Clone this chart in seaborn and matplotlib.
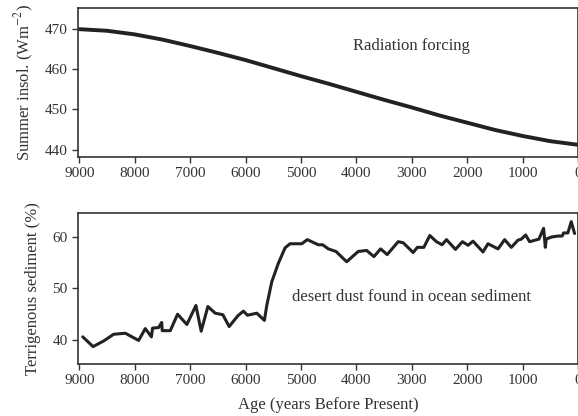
import numpy as np
import pandas as pd
import matplotlib
matplotlib.use("Agg")
import matplotlib.pyplot as plt
import seaborn as sns

# ---- data ----
insol_age = [9000, 8500, 8000, 7500, 7000, 6500, 6000, 5500, 5000, 4500,
             4000, 3500, 3000, 2500, 2000, 1500, 1000, 500, 0]
insol_val = [470.0, 469.6, 468.7, 467.4, 465.8, 464.1, 462.3, 460.3, 458.3, 456.4,
             454.4, 452.4, 450.5, 448.5, 446.7, 444.9, 443.4, 442.1, 441.2]

sed_age = [8940, 8753, 8562, 8382, 8171, 7931, 7811, 7700, 7680, 7571,
           7515, 7505, 7360, 7228, 7060, 6897, 6802, 6681, 6549, 6411,
           6297, 6140, 6039, 5967, 5798, 5661, 5618, 5528, 5409, 5288,
           5198, 4987, 4886, 4807, 4688, 4608, 4507, 4369, 4176, 3967,
           3816, 3684, 3563, 3444, 3246, 3156, 2976, 2900, 2783, 2675,
           2555, 2454, 2374, 2212, 2086, 1985, 1895, 1715, 1625, 1444,
           1324, 1204, 1084, 1023, 945, 873, 706, 621, 590, 573,
           483, 363, 285, 261, 183, 122, 62]
sed_val = [40.6, 38.7, 39.8, 41.1, 41.3, 39.9, 42.2, 40.6, 42.3, 42.4,
           43.4, 41.8, 41.8, 45.0, 43.0, 46.7, 41.7, 46.5, 45.2, 44.9,
           42.6, 44.7, 45.6, 44.8, 45.2, 43.8, 46.7, 51.3, 54.9, 57.9,
           58.7, 58.7, 59.5, 59.1, 58.5, 58.5, 57.7, 57.2, 55.2, 57.2,
           57.4, 56.2, 57.7, 56.6, 59.1, 58.9, 57.0, 58.0, 58.0, 60.3,
           59.1, 58.5, 59.5, 57.6, 59.1, 58.4, 59.2, 57.1, 58.7, 57.7,
           59.5, 58.0, 59.4, 59.6, 60.4, 59.1, 59.6, 61.7, 58.0, 59.6,
           60.0, 60.2, 60.2, 60.8, 60.8, 63.0, 60.7]

x_ticks = [9000, 8000, 7000, 6000, 5000, 4000, 3000, 2000, 1000, 0]
top_yticks = [440, 450, 460, 470]
bot_yticks = [40, 50, 60]

df_top = pd.DataFrame({"age": insol_age, "val": insol_val})
df_bot = pd.DataFrame({"age": sed_age, "val": sed_val})

sns.set_style("ticks")
plt.rcParams["font.family"] = ["Liberation Serif", "DejaVu Serif"]
plt.rcParams["mathtext.fontset"] = "stix"

fig = plt.figure(figsize=(5.78, 4.16), dpi=100)
ax1 = fig.add_axes([0.135, 0.623, 0.865, 0.358])
ax2 = fig.add_axes([0.135, 0.126, 0.865, 0.361])

lc = "#222222"
tc = "#333333"
sns.lineplot(data=df_top, x="age", y="val", ax=ax1, color=lc, linewidth=2.8, sort=False)
sns.lineplot(data=df_bot, x="age", y="val", ax=ax2, color=lc, linewidth=2.2, sort=False)

for ax in (ax1, ax2):
    ax.set_xlim(9025, 0)
    ax.set_xticks(x_ticks)
    ax.set_xticklabels([str(t) for t in x_ticks])
    for s in ax.spines.values():
        s.set_color("#333333")
        s.set_linewidth(1.2)
    ax.tick_params(axis="both", direction="out", length=4, width=1, colors="#333333",
                   labelsize=11, labelcolor=tc)
    ax.set_xlabel("")

ax1.set_ylim(438.2, 475.3)
ax1.set_yticks(top_yticks)
ax1.set_ylabel(r"Summer insol. (Wm$^{-2}$)", fontsize=12, color=tc, labelpad=6)
ax1.text(3000, 465.8, "Radiation forcing", fontsize=12, color=tc, ha="center", va="center")

ax2.set_ylim(35.4, 64.6)
ax2.set_yticks(bot_yticks)
ax2.set_ylabel("Terrigenous sediment (%)", fontsize=12, color=tc, labelpad=8)
ax2.set_xlabel("Age (years Before Present)", fontsize=12, color=tc, labelpad=7)
ax2.text(3000, 48.4, "desert dust found in ocean sediment", fontsize=12, color=tc,
         ha="center", va="center")

fig.savefig("out.png", dpi=100)
